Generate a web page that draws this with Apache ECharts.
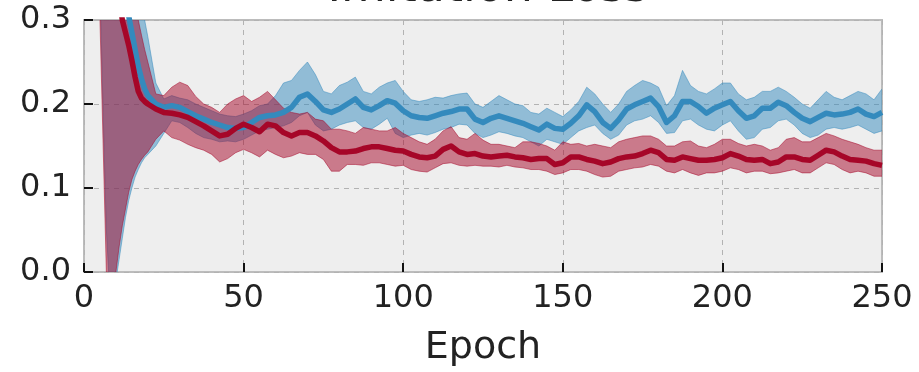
<!DOCTYPE html>
<html>
<head>
<meta charset="utf-8">
<script src="https://cdn.jsdelivr.net/npm/echarts@6/dist/echarts.min.js"></script>
<style>
  html, body { margin: 0; padding: 0; background: #fff; }
  #lossBox { width: 919px; height: 372px; }
</style>
</head>
<body>
<div id="lossBox"></div>
<script>
// imitation loss per epoch, two runs (mean +/- band)

var epochs = [4.5, 5, 6, 7, 8, 9, 10, 11, 12, 13, 14, 15, 16, 17, 18, 19,
    20, 22.5, 25, 27.5, 30, 32.5, 35, 37.5, 40, 42.5, 45, 47.5, 50, 52.5, 55, 57.5, 60, 62.5, 65, 67.5,
    70, 72.5, 75, 77.5, 80, 82.5, 85, 87.5, 90, 92.5, 95, 97.5, 100, 102.5, 105, 107.5, 110, 112.5, 115, 117.5,
    120, 122.5, 125, 127.5, 130, 132.5, 135, 137.5, 140, 142.5, 145, 147.5, 150, 152.5, 155, 157.5, 160, 162.5, 165, 167.5,
    170, 172.5, 175, 177.5, 180, 182.5, 185, 187.5, 190, 192.5, 195, 197.5, 200, 202.5, 205, 207.5, 210, 212.5, 215, 217.5,
    220, 222.5, 225, 227.5, 230, 232.5, 235, 237.5, 240, 242.5, 245, 247.5, 250];

var blueMean = [0.9, 0.86, 0.78, 0.7, 0.62, 0.54, 0.46, 0.4, 0.36, 0.33, 0.305, 0.285, 0.265, 0.245, 0.23, 0.218,
    0.21, 0.2, 0.196, 0.198, 0.196, 0.191, 0.186, 0.182, 0.178, 0.175, 0.172, 0.171, 0.172, 0.178, 0.184, 0.186, 0.187, 0.19, 0.196, 0.208,
    0.212, 0.203, 0.193, 0.19, 0.194, 0.2, 0.206, 0.196, 0.193, 0.198, 0.204, 0.201, 0.192, 0.186, 0.184, 0.183, 0.186, 0.189, 0.191, 0.194,
    0.194, 0.182, 0.178, 0.183, 0.186, 0.183, 0.18, 0.177, 0.173, 0.169, 0.176, 0.171, 0.17, 0.177, 0.186, 0.199, 0.191, 0.178, 0.171, 0.181,
    0.194, 0.199, 0.203, 0.207, 0.197, 0.178, 0.186, 0.203, 0.203, 0.197, 0.189, 0.195, 0.199, 0.203, 0.192, 0.183, 0.186, 0.195, 0.195, 0.202,
    0.198, 0.19, 0.183, 0.179, 0.184, 0.189, 0.187, 0.188, 0.19, 0.194, 0.188, 0.185, 0.19];
var blueUpper = [1.3, 1.3, 1.2, 1.1, 1.0, 0.9, 0.8, 0.7, 0.6, 0.52, 0.46, 0.41, 0.37, 0.34, 0.32, 0.3,
    0.28, 0.225, 0.206, 0.21, 0.207, 0.205, 0.2, 0.196, 0.192, 0.188, 0.186, 0.185, 0.188, 0.192, 0.198, 0.2, 0.21, 0.225, 0.228, 0.24,
    0.25, 0.235, 0.215, 0.212, 0.222, 0.226, 0.232, 0.215, 0.212, 0.22, 0.225, 0.228, 0.215, 0.205, 0.203, 0.205, 0.208, 0.207, 0.21, 0.212,
    0.213, 0.2, 0.196, 0.203, 0.21, 0.205, 0.2, 0.198, 0.19, 0.188, 0.195, 0.19, 0.185, 0.193, 0.203, 0.22, 0.212, 0.2, 0.19, 0.2,
    0.215, 0.222, 0.228, 0.225, 0.22, 0.198, 0.21, 0.24, 0.222, 0.215, 0.212, 0.218, 0.225, 0.225, 0.212, 0.205, 0.208, 0.215, 0.215, 0.22,
    0.215, 0.208, 0.2, 0.195, 0.205, 0.215, 0.208, 0.205, 0.21, 0.215, 0.212, 0.205, 0.218];
var blueLower = [0.4, 0.34, 0.19, 0.05, -0.02, -0.04, -0.01, 0.015, 0.04, 0.065, 0.085, 0.1, 0.113, 0.122, 0.13, 0.136,
    0.14, 0.15, 0.165, 0.18, 0.178, 0.172, 0.165, 0.16, 0.158, 0.155, 0.156, 0.155, 0.158, 0.163, 0.168, 0.17, 0.172, 0.174, 0.178, 0.186,
    0.19, 0.175, 0.168, 0.17, 0.175, 0.178, 0.18, 0.172, 0.17, 0.176, 0.183, 0.165, 0.16, 0.163, 0.165, 0.163, 0.166, 0.17, 0.172, 0.176,
    0.175, 0.165, 0.16, 0.163, 0.167, 0.165, 0.162, 0.16, 0.155, 0.15, 0.158, 0.155, 0.152, 0.16, 0.168, 0.172, 0.175, 0.165, 0.158, 0.163,
    0.175, 0.18, 0.182, 0.186, 0.178, 0.165, 0.166, 0.18, 0.182, 0.175, 0.17, 0.168, 0.175, 0.18, 0.168, 0.158, 0.16, 0.17, 0.172, 0.18,
    0.182, 0.175, 0.165, 0.16, 0.163, 0.17, 0.172, 0.17, 0.172, 0.175, 0.17, 0.165, 0.168];

var redMean = [0.85, 0.8, 0.7, 0.6, 0.5, 0.43, 0.37, 0.33, 0.3, 0.285, 0.27, 0.252, 0.232, 0.215, 0.207, 0.203,
    0.2, 0.194, 0.19, 0.189, 0.187, 0.184, 0.179, 0.174, 0.168, 0.162, 0.164, 0.171, 0.176, 0.172, 0.167, 0.176, 0.174, 0.166, 0.162, 0.166,
    0.166, 0.162, 0.156, 0.148, 0.143, 0.143, 0.144, 0.147, 0.149, 0.149, 0.147, 0.145, 0.144, 0.14, 0.137, 0.136, 0.138, 0.146, 0.15, 0.143,
    0.14, 0.141, 0.138, 0.137, 0.138, 0.139, 0.137, 0.136, 0.134, 0.135, 0.135, 0.128, 0.13, 0.137, 0.137, 0.134, 0.132, 0.129, 0.131, 0.135,
    0.137, 0.138, 0.141, 0.145, 0.142, 0.134, 0.133, 0.137, 0.135, 0.133, 0.133, 0.134, 0.136, 0.141, 0.138, 0.134, 0.133, 0.134, 0.129, 0.131,
    0.137, 0.137, 0.134, 0.133, 0.139, 0.145, 0.143, 0.138, 0.134, 0.133, 0.132, 0.129, 0.127];
var redUpper = [1.2, 1.2, 1.1, 1.0, 0.9, 0.8, 0.7, 0.6, 0.5, 0.45, 0.4, 0.36, 0.33, 0.3, 0.282, 0.265,
    0.25, 0.212, 0.21, 0.22, 0.226, 0.222, 0.209, 0.2, 0.196, 0.19, 0.2, 0.206, 0.21, 0.203, 0.208, 0.215, 0.205, 0.195, 0.19, 0.188,
    0.19, 0.182, 0.18, 0.17, 0.17, 0.168, 0.165, 0.172, 0.17, 0.168, 0.168, 0.172, 0.165, 0.16, 0.155, 0.152, 0.158, 0.168, 0.173, 0.16,
    0.158, 0.165, 0.157, 0.152, 0.152, 0.15, 0.148, 0.155, 0.155, 0.153, 0.15, 0.145, 0.155, 0.152, 0.153, 0.15, 0.152, 0.15, 0.148, 0.155,
    0.158, 0.16, 0.162, 0.162, 0.158, 0.15, 0.15, 0.155, 0.156, 0.15, 0.148, 0.152, 0.158, 0.158, 0.153, 0.15, 0.152, 0.15, 0.145, 0.148,
    0.158, 0.16, 0.155, 0.155, 0.16, 0.165, 0.162, 0.158, 0.155, 0.152, 0.148, 0.145, 0.145];
var redLower = [0.36, 0.3, 0.15, 0.0, -0.04, -0.03, 0.0, 0.03, 0.055, 0.075, 0.095, 0.11, 0.12, 0.128, 0.134, 0.139,
    0.143, 0.158, 0.168, 0.16, 0.157, 0.152, 0.148, 0.145, 0.14, 0.131, 0.135, 0.142, 0.146, 0.142, 0.137, 0.145, 0.14, 0.136, 0.138, 0.142,
    0.14, 0.14, 0.134, 0.12, 0.12, 0.128, 0.128, 0.127, 0.13, 0.13, 0.128, 0.126, 0.127, 0.122, 0.12, 0.119, 0.124, 0.129, 0.13, 0.127,
    0.126, 0.127, 0.126, 0.126, 0.125, 0.127, 0.125, 0.124, 0.122, 0.122, 0.12, 0.116, 0.118, 0.122, 0.122, 0.12, 0.116, 0.113, 0.114, 0.12,
    0.122, 0.124, 0.125, 0.128, 0.126, 0.12, 0.118, 0.122, 0.118, 0.115, 0.118, 0.118, 0.12, 0.124, 0.122, 0.118, 0.12, 0.12, 0.117, 0.118,
    0.12, 0.122, 0.118, 0.118, 0.124, 0.13, 0.128, 0.122, 0.118, 0.12, 0.118, 0.114, 0.114];

var xTicks = [0, 50, 100, 150, 200, 250];
var yTicks = [0.0, 0.1, 0.2, 0.3];

var BLUE = '#348ABD';
var RED = '#A60628';
var BLUE_FILL = 'rgba(52, 138, 189, 0.5)';
var RED_FILL = 'rgba(166, 6, 40, 0.5)';
var FONT = 'DejaVu Sans';

function pairs(xs, ys) {
    var out = [];
    for (var i = 0; i < xs.length; i++) out.push([xs[i], ys[i]]);
    return out;
}

// whole band drawn once as one polygon so the alpha does not double up
function bandSeries(name, low, up, fill) {
    return {
        name: name,
        type: 'custom',
        z: 2,
        data: pairs(epochs, up),
        encode: { x: 0, y: 1 },
        renderItem: function (params, api) {
            if (params.dataIndex !== 0) return null;
            var top = [], bottom = [];
            for (var i = 0; i < epochs.length; i++) {
                top.push(api.coord([epochs[i], up[i]]));
                bottom.push(api.coord([epochs[i], low[i]]));
            }
            var cs = params.coordSys;
            return {
                type: 'group',
                clipPath: { type: 'rect', shape: { x: cs.x, y: cs.y, width: cs.width, height: cs.height } },
                children: [
                    { type: 'polygon', shape: { points: top.concat(bottom.slice().reverse()) }, style: { fill: fill, stroke: null } },
                    { type: 'polyline', shape: { points: top }, style: { fill: null, stroke: fill, lineWidth: 1 } },
                    { type: 'polyline', shape: { points: bottom }, style: { fill: null, stroke: fill, lineWidth: 1 } }
                ]
            };
        }
    };
}

function meanSeries(name, values, color) {
    return {
        name: name,
        type: 'line',
        data: pairs(epochs, values),
        symbol: 'none',
        z: 3,
        lineStyle: { color: color, width: 5.5, join: 'round' }
    };
}

function loadLoss() {
    var myChart = echarts.init(document.getElementById('lossBox'), null, { renderer: 'canvas' });

    var option = {
        animation: false,
        backgroundColor: '#ffffff',
        title: {
            text: 'Imitation Loss',
            left: 483,
            top: -39,
            textAlign: 'center',
            textStyle: {
                fontFamily: FONT,
                fontSize: 46,
                fontWeight: 'normal',
                color: '#222'
            }
        },
        grid: {
            left: 84,
            right: 37,
            top: 20,
            bottom: 100,
            show: true,
            backgroundColor: '#eeeeee',
            borderColor: '#bcbcbc',
            borderWidth: 2
        },
        xAxis: {
            type: 'value',
            min: xTicks[0],
            max: xTicks[xTicks.length - 1],
            interval: 50,
            name: 'Epoch',
            nameLocation: 'middle',
            nameGap: 57,
            nameTextStyle: { fontFamily: FONT, fontSize: 38, color: '#222' },
            axisLine: { show: false },
            axisTick: { show: true, inside: true, length: 9, lineStyle: { color: '#111', width: 2 } },
            axisLabel: { fontFamily: FONT, fontSize: 32, color: '#222', margin: 11 },
            splitLine: { show: true, lineStyle: { color: '#b2b2b2', type: [5, 5], width: 1 } }
        },
        yAxis: {
            type: 'value',
            min: yTicks[0],
            max: yTicks[yTicks.length - 1],
            interval: 0.1,
            axisLine: { show: false },
            axisTick: { show: true, inside: true, length: 9, lineStyle: { color: '#111', width: 2 } },
            axisLabel: {
                fontFamily: FONT,
                fontSize: 32,
                color: '#222',
                margin: 13,
                formatter: function (v) { return v.toFixed(1); }
            },
            splitLine: { show: true, lineStyle: { color: '#b2b2b2', type: [5, 5], width: 1 } }
        },
        series: [
            bandSeries('blueBand', blueLower, blueUpper, BLUE_FILL),
            bandSeries('redBand', redLower, redUpper, RED_FILL),
            meanSeries('blueMean', blueMean, BLUE),
            meanSeries('redMean', redMean, RED)
        ]
    };

    myChart.setOption(option);
}

loadLoss();
</script>
</body>
</html>
